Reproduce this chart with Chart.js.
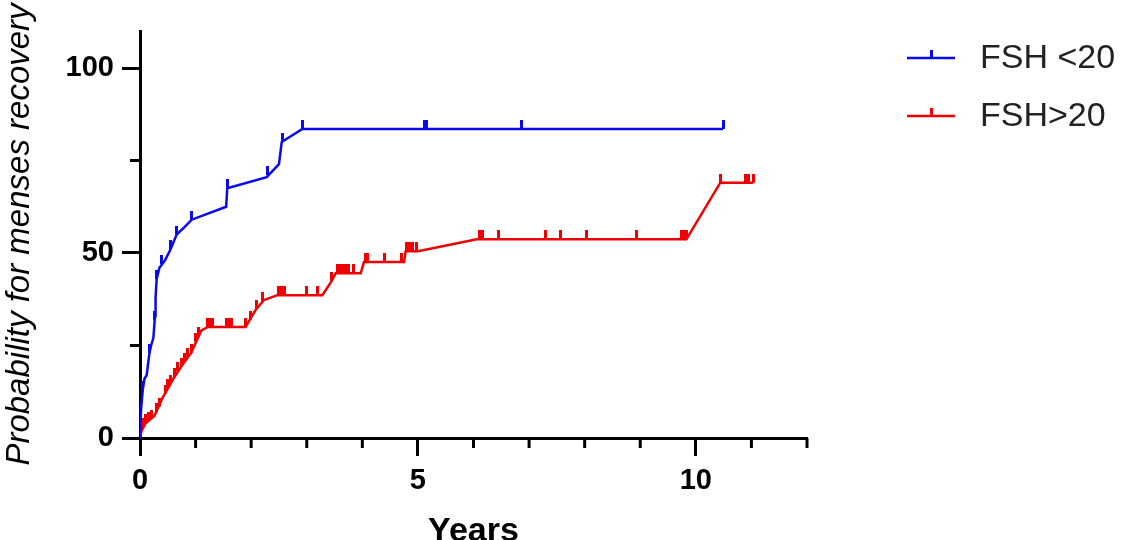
<!DOCTYPE html>
<html>
<head>
<meta charset="utf-8">
<script src="https://cdn.jsdelivr.net/npm/chart.js@4"></script>
<style>
  html, body { margin: 0; padding: 0; background: #fff; }
  #wrap { width: 1126px; height: 540px; }
</style>
</head>
<body>
<div id="wrap"><canvas id="km"></canvas></div>
<script>
// series names
const seriesNames = ['FSH <20', 'FSH>20'];

// FSH <20 curve (years, %)
const lowX = [0, 0.02, 0.05, 0.08, 0.12, 0.17, 0.2, 0.24, 0.27, 0.28, 0.3, 0.35, 0.45, 0.55, 0.66, 0.8, 0.93, 1.55, 1.57, 2.28, 2.5, 2.55, 2.92, 10.49];
const lowY = [0, 8, 13, 16, 17, 23, 25, 27, 33, 38, 43, 46, 48, 51, 55, 57, 59, 62.5, 67.5, 70.5, 74, 80, 83.5, 83.5];
// FSH <20 censored
const lowCensX = [0.05, 0.17, 0.26, 0.3, 0.38, 0.55, 0.66, 0.93, 1.57, 2.29, 2.56, 2.92, 5.12, 5.16, 6.87, 10.49];
const lowCensY = [13, 23, 32, 43, 47, 51, 55, 59, 67.5, 71, 80, 83.5, 83.5, 83.5, 83.5, 83.5];

// FSH >20 curve
const highX = [0, 0.03, 0.1, 0.26, 0.41, 0.62, 0.74, 0.92, 1.1, 1.22, 1.9, 2.08, 2.23, 2.47, 3.28, 3.43, 3.52, 3.97, 4.03, 4.75, 4.78, 5.0, 6.06, 9.83, 10.44, 11.03];
const highY = [0, 2, 4, 6, 11, 16.5, 19.3, 23, 29, 30, 30, 34.6, 37.3, 38.6, 38.6, 42, 44.5, 44.5, 47.6, 47.6, 50.5, 50.5, 53.7, 53.7, 69, 69];
// FSH >20 censored
const highCensX = [0.05, 0.1, 0.15, 0.2, 0.3, 0.35, 0.45, 0.5, 0.55, 0.62, 0.68, 0.74, 0.8, 0.86, 0.92, 1.0, 1.05, 1.22, 1.26, 1.3, 1.55, 1.6, 1.65, 1.9, 1.98, 2.1, 2.2, 2.5, 2.55, 2.6, 3.0, 3.2, 3.45, 3.55, 3.6, 3.65, 3.7, 3.75, 3.85, 4.05, 4.1, 4.4, 4.7, 4.8, 4.85, 4.9, 4.97, 6.1, 6.17, 6.45, 7.29, 7.56, 8.04, 8.94, 9.75, 9.8, 9.84, 10.44, 10.9, 10.95, 11.03];
const highCensY = [3, 4, 4.5, 5.2, 7, 8.5, 12, 13.5, 14.5, 16.5, 18, 19.3, 20.5, 21.8, 23, 26, 27.5, 30, 30, 30, 30, 30, 30, 30, 32, 35, 37, 38.6, 38.6, 38.6, 38.6, 38.6, 42.5, 44.5, 44.5, 44.5, 44.5, 44.5, 44.5, 47.6, 47.6, 47.6, 47.6, 50.5, 50.5, 50.5, 50.5, 53.7, 53.7, 53.7, 53.7, 53.7, 53.7, 53.7, 53.7, 53.7, 53.7, 69, 69, 69, 69];

// axis ticks
const xTicks = [0, 1, 2, 3, 4, 5, 6, 7, 8, 9, 10, 11, 12];
const xLabels = [0, 5, 10];
const yTicks = [0, 25, 50, 75, 100];
const yLabels = [0, 50, 100];

const BLUE = '#0a0af0';
const RED = '#f00000';
const FONT = '"Liberation Sans", Arial, sans-serif';

function pts(xs, ys) {
  return xs.map((x, i) => ({ x: x, y: ys[i] }));
}

// small upward tick used as censor mark
function censorMark(color) {
  const c = document.createElement('canvas');
  c.width = 3;
  c.height = 18;
  const g = c.getContext('2d');
  g.fillStyle = color;
  g.fillRect(0, 0, 3, 9);
  return c;
}

const minorTicks = {
  id: 'minorTicks',
  afterDraw(chart) {
    const ctx = chart.ctx;
    const xs = chart.scales.x, ys = chart.scales.y;
    ctx.save();
    ctx.strokeStyle = '#000';
    ctx.lineWidth = 3;
    ctx.beginPath();
    xTicks.filter(v => !xLabels.includes(v)).forEach(v => {
      const px = xs.getPixelForValue(v);
      ctx.moveTo(px, xs.top);
      ctx.lineTo(px, xs.top + 10);
    });
    yTicks.filter(v => !yLabels.includes(v)).forEach(v => {
      const py = ys.getPixelForValue(v);
      ctx.moveTo(ys.right, py);
      ctx.lineTo(ys.right - 10, py);
    });
    ctx.stroke();
    ctx.restore();
  }
};

const legendBox = {
  id: 'legendBox',
  afterDraw(chart) {
    const ctx = chart.ctx;
    const rows = [[BLUE, 58], [RED, 116]];
    ctx.save();
    rows.forEach((r, i) => {
      ctx.strokeStyle = r[0];
      ctx.lineWidth = 2.5;
      ctx.beginPath();
      ctx.moveTo(907, r[1]);
      ctx.lineTo(955, r[1]);
      ctx.stroke();
      ctx.fillStyle = r[0];
      ctx.fillRect(930, r[1] - 8, 3, 8);
      ctx.fillStyle = '#222';
      ctx.font = '34px ' + FONT;
      ctx.textBaseline = 'middle';
      ctx.fillText(seriesNames[i], 980, r[1] + 1);
    });
    ctx.restore();
  }
};

const data = {
  datasets: [
    {
      type: 'line',
      label: seriesNames[0],
      data: pts(lowX, lowY),
      borderColor: BLUE,
      borderWidth: 2.5,
      pointRadius: 0,
      tension: 0
    },
    {
      type: 'scatter',
      label: seriesNames[0] + ' censored',
      data: pts(lowCensX, lowCensY),
      pointStyle: censorMark(BLUE)
    },
    {
      type: 'line',
      label: seriesNames[1],
      data: pts(highX, highY),
      borderColor: RED,
      borderWidth: 2.5,
      pointRadius: 0,
      tension: 0
    },
    {
      type: 'scatter',
      label: seriesNames[1] + ' censored',
      data: pts(highCensX, highCensY),
      pointStyle: censorMark(RED)
    }
  ]
};

const config = {
  data: data,
  options: {
    responsive: true,
    maintainAspectRatio: false,
    animation: false,
    layout: { padding: { top: 31, right: 319, left: 0, bottom: -12 } },
    plugins: {
      legend: { display: false },
      tooltip: { enabled: false }
    },
    scales: {
      x: {
        type: 'linear',
        min: 0,
        max: 12,
        afterBuildTicks: s => { s.ticks = xTicks.map(v => ({ value: v })); },
        afterFit: s => { s.height = 114; },
        border: { color: '#000', width: 3 },
        grid: {
          drawOnChartArea: false,
          tickLength: 18,
          tickWidth: 3,
          tickColor: c => xLabels.includes(c.tick.value) ? '#000' : 'rgba(0,0,0,0)'
        },
        ticks: {
          color: '#000',
          padding: 8,
          maxRotation: 0,
          autoSkip: false,
          font: { family: FONT, size: 29, weight: 'bold' },
          callback: v => xLabels.includes(v) ? String(v) : ''
        },
        title: {
          display: true,
          text: 'Years',
          color: '#000',
          padding: { top: 4, bottom: 0 },
          font: { family: FONT, size: 34, weight: 'bold' }
        }
      },
      y: {
        type: 'linear',
        min: 0,
        max: 110,
        afterBuildTicks: s => { s.ticks = yTicks.map(v => ({ value: v })); },
        afterFit: s => { s.width = 140; },
        border: { color: '#000', width: 3 },
        grid: {
          drawOnChartArea: false,
          tickLength: 18,
          tickWidth: 3,
          tickColor: c => yLabels.includes(c.tick.value) ? '#000' : 'rgba(0,0,0,0)'
        },
        ticks: {
          color: '#000',
          padding: 8,
          autoSkip: false,
          font: { family: FONT, size: 29, weight: 'bold' },
          callback: v => yLabels.includes(v) ? String(v) : ''
        },
        title: {
          display: true,
          text: 'Probability for menses recovery',
          color: '#000',
          padding: { top: 0, bottom: 0 },
          font: { family: FONT, size: 33, style: 'italic' }
        }
      }
    }
  },
  plugins: [minorTicks, legendBox]
};

const kmChart = new Chart(document.getElementById('km'), config);
</script>
</body>
</html>
